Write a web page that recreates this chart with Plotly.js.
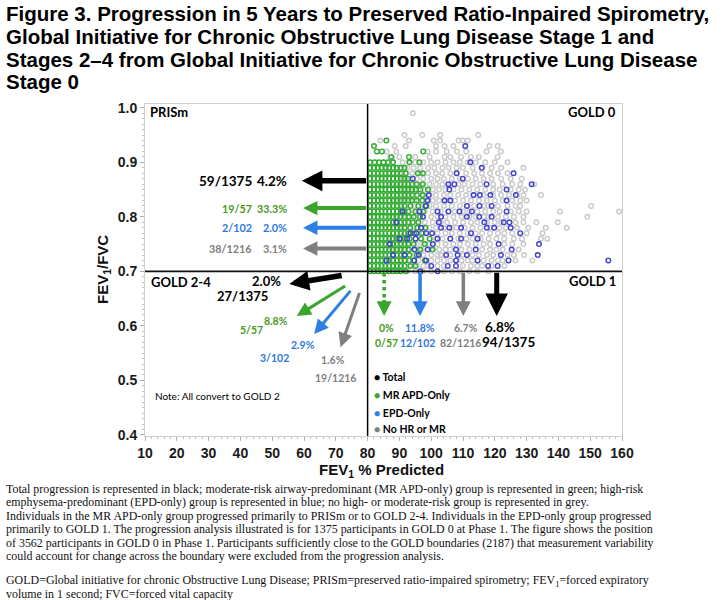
<!DOCTYPE html>
<html><head><meta charset="utf-8">
<script src="https://cdn.plot.ly/plotly-3.0.1.min.js"></script>
<style>html,body{margin:0;padding:0;background:#fff;}#chart{width:728px;height:600px;}</style>
</head><body><div id="chart"></div>
<script>
// ================= DATA =================
// FEV1/FVC rows on which the GOLD 0 participants are plotted (scatter)
const rowY = [0.70,0.71,0.72,0.73,0.74,0.75,0.76,0.77,0.78,0.79,0.80,0.81,0.82,0.83,0.84,0.85,0.86,0.87,0.88,0.89,0.90,0.91,0.92,0.93,0.94,0.95,0.96,0.97,0.98,0.99];
// FEV1 % predicted of "No HR or MR" participants (grey), one list per row of rowY
const greyRows = [
 [87,90,92.5,95,97.5,100,104,106.5,109,112,114.5,118],
 [88,90.5,93,95.5,97.5,99,102,104,110,112.5,114.5,116,119,123],
 [87,89.5,92,96,100,102,104,106,109.5,111.5,113,116.5,119,121,122.5,126.5,131.8],
 [88,90.5,93,95,97.5,100,102,103,106,110,113,115,117.5,119.5,124,126,129.2],
 [87.5,90,92.5,95,97,100,102.5,104.5,106,109.5,112,116,118.5,120.5,122.5,127.5],
 [88,90.5,93,95.5,97.5,99.5,102,104.5,107,109,111.5,114,116.5,118.5,123,125.5,129],
 [87.5,90,92.5,95,97,99.5,101.5,103.5,106,108.5,111,113,115.5,118,120.5,123,126,128.5,134.5,136.5],
 [88,90.5,93,95.5,97.5,100,102,104.5,106.5,109,111.5,114,116,118.5,121,123,125.5,130,135],
 [87,89.5,92,94.5,97,99.5,101.5,104,106.5,108,110.5,113,115.5,118.5,121.5,123.5,127,130.5,136,142.6],
 [88,90.5,93,95.5,98,100.5,103,105,107.5,110,112.5,114.5,117.5,120,122,126.5,129,133.1,139.8],
 [87.5,90,92.5,95,97.5,100,102,104.5,107,109.5,112,114,116.5,118,121,123.5,126,129,149.1],
 [88,90.5,93,95.5,98,100.5,103,105.5,107.5,110,112,114.5,117,119.5,121.5,125,127.5,130,140.5,159.1],
 [87,89.5,92,94.5,97,99.5,101.5,104,106.5,109,111.5,113.5,116.5,118,121,124,126.5,128,150.3],
 [88.5,91,93.5,96,98.5,100.5,102.5,105,107.5,110,112.5,115,117.5,120,122.5,125.5,128,130],
 [87,89.5,92,94.5,97,99.5,101.5,104,106,108.5,111,113.5,116.5,119.5,122,124.5,127,129,134.5],
 [88,91,93.5,96,98,100.5,102.5,104.5,107,109.5,112,114.5,117,119.5,121.5,125,127.5,129.5],
 [87.5,90,92.5,95,97,99.5,101.5,103.5,106,108.5,110.5,113,115.5,119.5,122.5,125.5,128,132.4],
 [88,91,93.5,95.5,97.5,100,102,104,106.5,109,111.5,114,116.5,119,122,125,128.5],
 [87,90,92,94,96.5,99,101.5,103.5,106,108,111,113.5,116,118.5,121,124],
 [86,89,92.5,94.5,96.5,99,101,103.5,105.5,108,110,113,116,119,122,129],
 [85,88,91,93,95,97.5,100,102,104.5,107,109,111.5,114,117,120,124],
 [87.1,90,95,99.5,104.2,106,109.4,112.5,115,120.9],
 [86,89,98.9,101.5,104.9,108.1,111,117.4,121.9],
 [88.5,92,101.5,104.2,107,118.3,120.9],
 [84,93,100.8,102.8,108.6,109.9,111.5],
 [91.6,97.2,102.8,114.8],
 [],[],[],
 [94.2]
];
// MR APD-only participants (green)
const greenRows = [
 [80.8,82,83.2,84.4,85.6,86.8,88,89.2,90.4,92],
 [80.8,82,83.2,84.4,85.6,86.8,88,89.2,90.4,91.6,93.5,95],
 [80.8,82,83.2,84.4,85.6,86.8,88,89.2,90.4,91.6,93,94.5,98],
 [80.8,82,83.2,84.4,85.6,86.8,88,89.2,90.4,91.6,93.2,95.5],
 [80.8,82,83.2,84.4,85.6,86.8,88,89.2,90.4,91.6,93,96.5,100.5],
 [80.8,82,83.2,84.4,85.6,86.8,88,89.2,90.4,91.6,92.8,94.5,98],
 [80.8,82,83.2,84.4,85.6,86.8,88,89.2,90.4,91.6,93.2,96.8,99.5],
 [80.8,82,83.2,84.4,85.6,86.8,88,89.2,90.4,91.6,92.8,94.6,97],
 [80.8,82,83.2,84.4,85.6,86.8,88,89.2,90.4,91.6,93.4,95.6,98.2],
 [80.8,82,83.2,84.4,85.6,86.8,88,89.2,90.4,91.6,92.8,94.2,96],
 [80.8,82,83.2,84.4,85.6,86.8,88,89.2,90.4,91.6,93,94.5,96.5],
 [80.8,82,83.2,84.4,85.6,86.8,88,89.2,90.4,91.6,92.8,95,97.5],
 [80.8,82,83.2,84.4,85.6,86.8,88,89.2,90.4,91.6,93.5,96,98.5],
 [80.8,82,83.2,84.4,85.6,86.8,88,89.2,90.4,91.6,92.8,94,95.4,97.2],
 [80.8,82,83.2,84.4,85.6,86.8,88,89.2,90.4,91.6,92.8,94,95.5,97.4],
 [80.8,82,83.2,84.4,85.6,86.8,88,89.2,90.4,91.6,92.8,94,95.2,96.6,99],
 [80.8,82,83.2,84.4,85.6,86.8,88,89.2,90.4,91.6,92.8,94,95.5,97.4],
 [80.8,82,83.2,84.4,85.6,86.8,88,89.2,90.4,91.6,92.7],
 [80.8,82,83.2,84.4,85.6,86.8,88,89.2,90.6,92,95.8,97.4],
 [80.8,82,83.2,84.4,85.6,86.8,88,89.2,90.4,91.6],
 [80.8,82.2,83.6,85,86.4,88,93.2,96.3],
 [87.5,93],
 [82.9,84.5,97.5],
 [82],
 [85.9],
 [],[],[],[],[]
];
// EPD-only participants (blue)
const blueRows = [
 [96.6,102],
 [100,105.2,107.8,117.9,120.9],
 [86,94.7,98.4,107.8,114.6,124.3,155.7],
 [88,91.6,96.1,104.7,108.3,111.2,121.9,133.5],
 [94.7,98.9,107.8,114,125.3],
 [87,100.5,121.2,133.9],
 [90,92.4,95.1,102,106,109.4,114.6],
 [93.5,95.3,98.4,100.3,112.5,128],
 [96.8,103.1,105.7,109.4,117.5,119.8,125],
 [89,102.4,116.7,122.8,124.6],
 [97.4,103.1,111.2,115.1,119],
 [91,96.3,102,105.4,108.9,112.8,123.7],
 [98.2,111.2,115.2,119],
 [98.9,104.2,106,123.7],
 [99.2,113.3,115.3,118.6,126.6],
 [105.7,123.7],
 [105.4,107.3,117.4,131.6],
 [94.2,109.9],
 [108,125.9],
 [115.9],
 [112.3],
 [],[],
 [110.7],
 [],[],[],[],[],[]
];

// Progression results (order: Total, MR APD-only, EPD-only, No HR or MR)
const groups      = ['Total','MR APD-Only','EPD-Only','No HR or MR'];
const prismN      = ['59/1375','19/57','2/102','38/1216'];
const prismPct    = ['4.2%','33.3%','2.0%','3.1%'];
const gold24N     = ['27/1375','5/57','3/102','19/1216'];
const gold24Pct   = ['2.0%','8.8%','2.9%','1.6%'];
const gold1N      = ['94/1375','0/57','12/102','82/1216'];
const gold1Pct    = ['6.8%','0%','11.8%','6.7%'];
const quadrants   = ['PRISm','GOLD 0','GOLD 2-4','GOLD 1'];
const xTicks      = [10,20,30,40,50,60,70,80,90,100,110,120,130,140,150,160];
const yTicks      = [0.4,0.5,0.6,0.7,0.8,0.9,1.0];

const titleLines = [
 'Figure 3. Progression in 5 Years to Preserved Ratio-Inpaired Spirometry,',
 'Global Initiative for Chronic Obstructive Lung Disease Stage 1 and',
 'Stages 2\u20134 from Global Initiative for Chronic Obstructive Lung Disease',
 'Stage 0'
];
const captionLines = [
 'Total progression is represented in black; moderate-risk airway-predominant (MR APD-only) group is represented in green; high-risk',
 'emphysema-predominant (EPD-only) group is represented in blue; no high- or moderate-risk group is represented in grey.',
 'Individuals in the MR APD-only group progressed primarily to PRISm or to GOLD 2-4. Individuals in the EPD-only group progressed',
 'primarily to GOLD 1. The progression analysis illustrated is for 1375 participants in GOLD 0 at Phase 1. The figure shows the position',
 'of 3562 participants in GOLD 0 in Phase 1. Participants sufficiently close to the GOLD boundaries (2187) that measurement variability',
 'could account for change across the boundary were excluded from the progression analysis.',
 '',
 'GOLD=Global initiative for chronic Obstructive Lung Disease; PRISm=preserved ratio-impaired spirometry; FEV<sub>1</sub>=forced expiratory',
 'volume in 1 second; FVC=forced vital capacity'
];

// ================= STYLE / LAYOUT =================
const M = {l:145, r:106, t:104, b:164};
const W = 728 - M.l - M.r, H = 600 - M.t - M.b;
const px2x = px => (px - M.l) / W;           // pixel -> paper x
const py2y = py => (600 - M.b - py) / H;     // pixel -> paper y

const COL = {
  black:'#000000', green:'#3aa52c', greenTxt:'#4a9a24', blue:'#2d7fe2', blueTxt:'#2f78dc',
  grey:'#7f7f7f', greyTxt:'#808080',
  sGrey:'#c9c9c9', sGreen:'#30ad30', sBlue:'#4141cf'
};
const colArr  = [COL.black, COL.green, COL.blue, COL.grey];
const txtArr  = [COL.black, COL.greenTxt, COL.blueTxt, COL.greyTxt];
const CAL = 'Lato, Carlito, Calibri, sans-serif';
const ARIALB = 'Liberation Sans, Arial, sans-serif';
const SERIF = 'Liberation Serif, Times New Roman, serif';

function flatten(rows){
  const xs=[], ys=[];
  rows.forEach((r,i)=>r.forEach(v=>{xs.push(v); ys.push(rowY[i]);}));
  return {x:xs, y:ys};
}
function scatterTrace(rows, color){
  const d = flatten(rows);
  return {type:'scatter', mode:'markers', x:d.x, y:d.y, hoverinfo:'skip', showlegend:false,
    marker:{symbol:'circle-open', size:4.6, color:color, line:{color:color, width:1.4}}};
}
const traces = [
  scatterTrace(greyRows, COL.sGrey),
  scatterTrace(greenRows, COL.sGreen),
  scatterTrace(blueRows, COL.sBlue)
];

const ann = [];
function arrow(x0,y0,x1,y1,color,w,size){
  ann.push({x:x1,y:y1,ax:x0,ay:y0,xref:'x',yref:'y',axref:'x',ayref:'y',text:'',
    showarrow:true,arrowhead:2,arrowsize:size,arrowwidth:w,arrowcolor:color,standoff:0,startstandoff:0});
}
function label(x,y,t,color,size,anchor,bold){
  ann.push({x:x,y:y,xref:'x',yref:'y',text:t,showarrow:false,xanchor:anchor||'center',yanchor:'middle',
    font:{family:CAL,size:size,color:color,weight:bold===false?'normal':'bold'}});
}

// --- arrows to PRISm (horizontal, from FEV1 = 80 boundary) ---
const prismArrowY = [0.866, 0.816, 0.780, 0.742];
const prismTipX   = [59.3, 59.7, 59.7, 59.7];
prismArrowY.forEach((y,i)=>{
  const big = i===0;
  arrow(80, y, prismTipX[i], y, colArr[i], big?5.5:4, big?0.75:0.72);
  label(44.4, y, prismN[i], txtArr[i], big?13.5:10.8, 'right');
  label(55.3, y, prismPct[i], txtArr[i], big?13.5:10.8, 'right');
});

// --- arrows to GOLD 2-4 (diagonal) ---
const g24Tail = [[72.3,0.693],[73.4,0.675],[75.0,0.667],[77.6,0.663]];
const g24Tip  = [[55.4,0.677],[57.7,0.618],[63.2,0.585],[71.5,0.561]];
g24Tail.forEach((t,i)=>{
  const big = i===0;
  arrow(t[0], t[1], g24Tip[i][0], g24Tip[i][1], colArr[i], big?5.5:3, big?0.72:0.95);
});
label(53.4,0.682,gold24Pct[0],COL.black,13,'right');
label(49.3,0.654,gold24N[0],COL.black,13,'right');
label(55.6,0.609,gold24Pct[1],COL.greenTxt,10.5,'right');
label(47.7,0.592,gold24N[1],COL.greenTxt,10.5,'right');
label(64.0,0.565,gold24Pct[2],COL.blueTxt,10.5,'right');
label(55.8,0.541,gold24N[2],COL.blueTxt,10.5,'right');
label(73.6,0.537,gold24Pct[3],COL.greyTxt,10.5,'right');
label(77.1,0.504,gold24N[3],COL.greyTxt,10.5,'right');

// --- arrows to GOLD 1 (vertical, from FEV1/FVC = 0.70 boundary) ---
const g1X = [120.6, 85.2, 96.5, 110.1];
const g1PctX = [121.6, 85.8, 96.4, 110.8];
const g1NX   = [124.2, 85.8, 95.8, 109.1];
const shapes = [];
g1X.forEach((x,i)=>{
  if(i===0){ arrow(x,0.70,x,0.618,COL.black,5,0.9); }
  else if(i===1){
    shapes.push({type:'line',xref:'x',yref:'y',x0:x,x1:x,y0:0.697,y1:0.646,line:{color:COL.green,width:3.5,dash:'dot'},layer:'above'});
    arrow(x,0.650,x,0.618,COL.green,3.5,0.85);
  } else { arrow(x,0.70,x,0.618,colArr[i],3.5,0.85); }
  const big = i===0;
  label(g1PctX[i], big?0.598:0.597, gold1Pct[i], txtArr[i], big?13.5:10.5, 'center');
  label(g1NX[i], big?0.571:0.569, gold1N[i], txtArr[i], big?13.5:10.5, 'center');
});

// --- quadrant names ---
label(10.9,0.992,quadrants[0],'#000',13,'left');
label(158.7,0.992,quadrants[1],'#000',13,'right');
label(11.3,0.680,quadrants[2],'#000',13,'left');
label(158.7,0.682,quadrants[3],'#000',13,'right');
label(12.5,0.471,'Note: All convert to GOLD 2','#000',10,'left',false);

// --- key ---
const keyY = [0.506,0.473,0.441,0.410];
groups.forEach((g,i)=>{
  ann.push({x:81.3,y:keyY[i],xref:'x',yref:'y',xanchor:'left',yanchor:'middle',showarrow:false,
    text:'<span style="color:'+colArr[i]+'">\u25CF</span> '+g,
    font:{family:CAL,size:10.5,color:'#000',weight:'bold'}});
});

// --- axis titles ---
ann.push({xref:'paper',yref:'paper',x:px2x(103),y:0.5,text:'FEV<sub>1</sub>/FVC',textangle:-90,showarrow:false,
  xanchor:'center',yanchor:'middle',font:{family:ARIALB,size:15,color:'#111',weight:'bold'}});
ann.push({xref:'paper',yref:'paper',x:px2x(381),y:py2y(470),text:'FEV<sub>1</sub> % Predicted',showarrow:false,
  xanchor:'center',yanchor:'middle',font:{family:ARIALB,size:15,color:'#111',weight:'bold'}});

// --- title ---
const titleYpx = [13.5,36.5,59,81.5];
titleLines.forEach((t,i)=>{
  ann.push({xref:'paper',yref:'paper',x:px2x(4),y:py2y(titleYpx[i]),text:t,showarrow:false,
    xanchor:'left',yanchor:'middle',font:{family:ARIALB,size:20.5,color:'#000',weight:'bold'}});
});
// --- caption ---
const capYpx = [488.5,502,515.5,529,542.5,556,569,580.5,593.5];
captionLines.forEach((t,i)=>{
  if(!t) return;
  ann.push({xref:'paper',yref:'paper',x:px2x(4),y:py2y(capYpx[i]),text:t,showarrow:false,
    xanchor:'left',yanchor:'middle',font:{family:SERIF,size:11.95,color:'#111'}});
});

// quadrant boundaries
shapes.push({type:'line',xref:'x',yref:'paper',x0:80,x1:80,y0:0,y1:1,line:{color:'#000',width:1.5},layer:'above'});
shapes.push({type:'line',xref:'paper',yref:'y',x0:0,x1:1,y0:0.70,y1:0.70,line:{color:'#111',width:1.8},layer:'above'});

const axisCommon = {showgrid:false, zeroline:false, showline:true, linecolor:'#d0d0d0', linewidth:1, mirror:true,
  ticks:'outside', ticklen:4, tickcolor:'#b0b0b0', tickwidth:1,
  tickfont:{family:ARIALB, size:14, color:'#1a1a1a', weight:'bold'}};

const layout = {
  width:728, height:600, margin:M, paper_bgcolor:'#fff', plot_bgcolor:'#fff', showlegend:false,
  xaxis:Object.assign({}, axisCommon, {range:[10,160], tickvals:xTicks, ticktext:xTicks.map(String),
     minor:{ticks:'outside', ticklen:2, dtick:2, tickcolor:'#c0c0c0'}}),
  yaxis:Object.assign({}, axisCommon, {range:[0.398,1.007], tickvals:yTicks, ticktext:yTicks.map(v=>v.toFixed(1)),
     minor:{ticks:'outside', ticklen:2, dtick:0.01, tickcolor:'#c0c0c0'}}),
  shapes:shapes, annotations:ann
};
Plotly.newPlot('chart', traces, layout, {staticPlot:true, displayModeBar:false});
</script></body></html>
